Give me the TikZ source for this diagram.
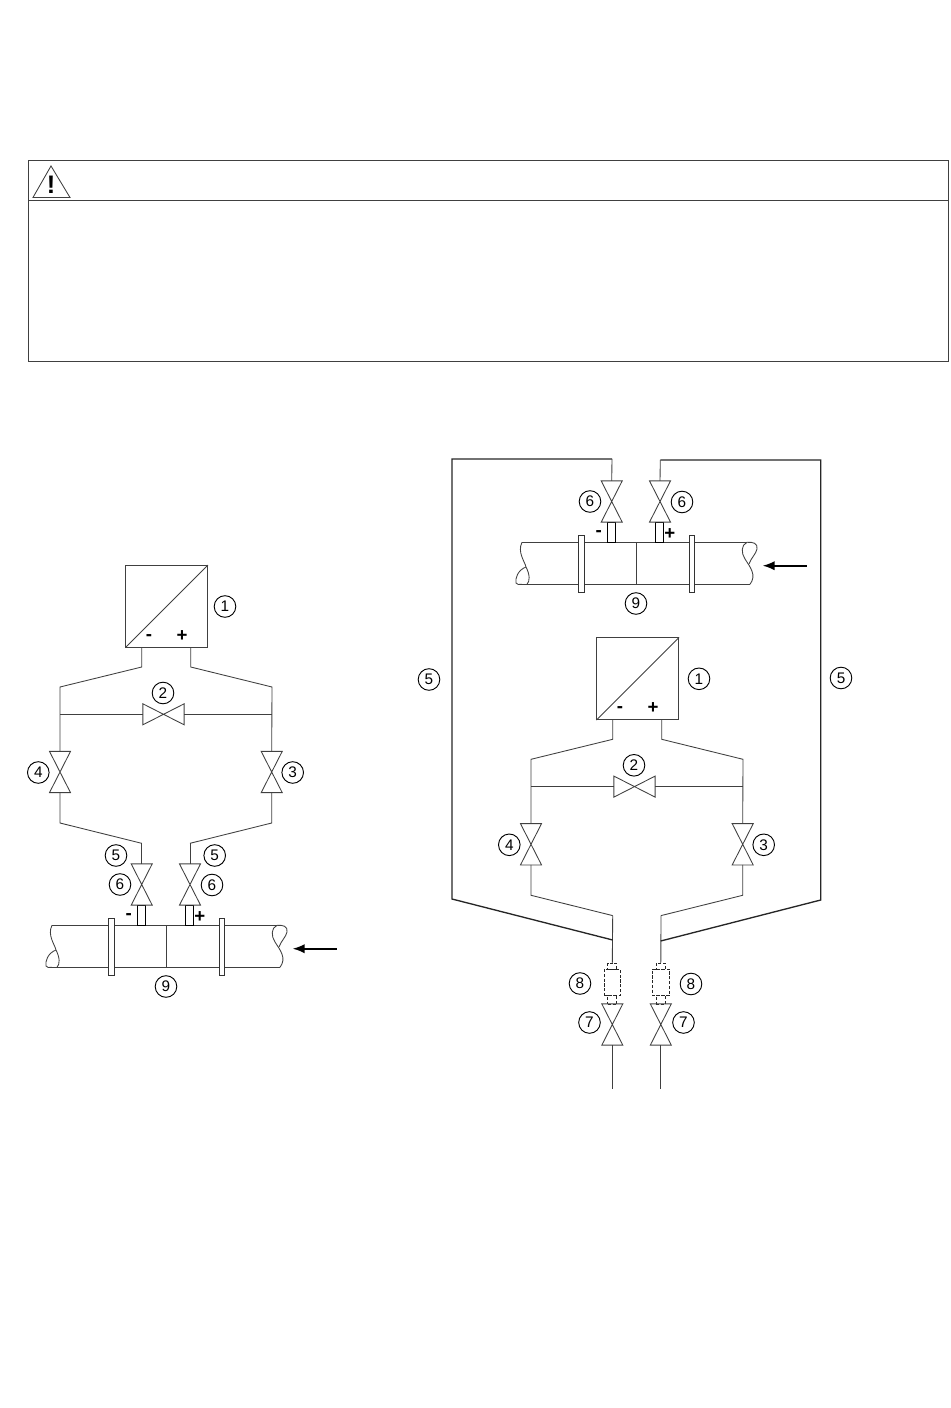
\documentclass[tikz,border=0pt]{standalone}
\usepackage{fontspec}
\setmainfont{Liberation Sans}
\usetikzlibrary{arrows.meta}

\begin{document}
\begin{tikzpicture}[
     x=0.75pt, y=-0.75pt,
     % define styles
     line/.style={ draw=black!75, line width=0.65pt },
     impulse/.style={ draw=black!85, line width=1pt },
     frame/.style={ draw=black!75, line width=0.75pt },
     valve/.style={ inner sep=0pt, minimum width=15.4pt, minimum height=30.6pt },
     valveh/.style={ inner sep=0pt, minimum width=30.6pt, minimum height=15.4pt },
     tag/.style={ draw=black, line width=0.7pt, circle, inner sep=0pt,
         minimum size=16.2pt, font=\fontsize{11.5}{11.5}\selectfont },
     sign/.style={ inner sep=0pt, font=\fontsize{14}{14}\selectfont\bfseries },
     flange/.style={ draw=black!80, fill=white, line width=0.75pt, inner sep=0pt,
         minimum width=4.4pt, minimum height=42.4pt },
     tube/.style={ draw=black, fill=white, line width=0.75pt, inner sep=0pt,
         minimum width=6pt, minimum height=15pt },
     trap/.style={ draw=black!85, dashed, dash pattern=on 2.4pt off 1.2pt,
         line width=0.75pt, inner sep=0pt },
     >={Latex[length=9pt,width=7pt]}
]
\useasboundingbox (0,0) rectangle (950,1408);

% warning box
\node[frame, inner sep=0pt, minimum width=690pt, minimum height=150.75pt] (warnbox) at (488,261) {};
\coordinate (divL) at (28,200.5);
\coordinate (divR) at (948,200.5);
\draw[frame] (divL) -- (divR);
\draw[line] (51,166) -- (70,197.5) -- (33,197.5) -- cycle;
\node[inner sep=0pt, font=\fontsize{19}{19}\selectfont\bfseries] (warnmark) at (51,185) {!};

% pipe with tapping valves, left and right
\foreach \pre/\sx/\sy in {a/0/0,b/470/-383} {
\begin{scope}[shift={(\sx,\sy)}, name prefix=\pre-]
    \draw[line] (52,925.3) -- (277,925.3);
    \draw[line] (50,967.3) -- (280,967.3);
    \draw[line] (52,925.3) .. controls (47,935) and (55,945) .. (56,950)
        .. controls (60,958) and (60,964) .. (57,967.3);
    \draw[line] (56,950) .. controls (48,953) and (45,961) .. (46,966)
        .. controls (47,968) and (49,967.5) .. (52,967.3);
    \draw[line] (277,925.3) .. controls (271,928) and (271,936) .. (275,942)
        .. controls (280,950) and (287,958) .. (280,967.3);
    \draw[line] (277,925.3) .. controls (283,925) and (288,926) .. (287,932)
        .. controls (286,937) and (281,941) .. (279,947);
    \node[flange] (fl1) at (111.5,947.2) {};
    \node[flange] (fl2) at (222,947.2) {};
    \coordinate (midT) at (166,925.3);
    \coordinate (midB) at (166,967.3);
    \draw[line] (midT) -- (midB);
    \node[tube] (tb1) at (141.7,915) {};
    \node[tube] (tb2) at (189.8,915) {};
    \foreach \vn/\vx in {v6l/141.7,v6r/190} {
        \node[valve] (\vn) at (\vx,884.5) {};
        \draw[line] (\vn.north west) -- (\vn.south east) -- (\vn.south west)
            -- (\vn.north east) -- cycle;
    }
    \node[sign] (minus) at (128.7,917) {-};
    \node[sign] (plus) at (199.8,917) {+};
    \node[tag] (n6l) at (120,884.5) {6};
    \node[tag] (n6r) at (212,885) {6};
    \node[tag] (n9) at (166,986.5) {9};
    \coordinate (flowTail) at (336.7,948.7);
    \coordinate (flowTip) at (292.7,948.7);
    \draw[->, line width=1.2pt] (flowTail) -- (flowTip);
\end{scope}
}

% transmitter with manifold, left and right
\foreach \pre/\sx/\sy/\ox in {m/0/0/225,n/471/72.3/228} {
\begin{scope}[shift={(\sx,\sy)}, name prefix=\pre-]
    \node[draw=black!75, line width=0.75pt, inner sep=0pt, minimum size=61.2pt] (box) at (166.7,606.4) {};
    \draw[line] (box.south west) -- (box.north east);
    \node[sign] (minus) at (149,637.5) {-};
    \node[sign] (plus) at (182,636) {+};
    \node[tag] (n1) at (\ox,606.5) {1};
    \coordinate (stemL) at (141.7,647.3);
    \coordinate (stemR) at (190.7,647.3);
    \coordinate (lowL) at (141.7,843.3);
    \coordinate (lowR) at (190,843.3);
    \coordinate (junL) at (60,714.3);
    \coordinate (junR) at (272,714.3);
    \node[valve] (v4) at (60,772) {};
    \node[valve] (v3) at (271.7,772) {};
    \foreach \vn in {v4,v3}
        \draw[line] (\vn.north west) -- (\vn.south east) -- (\vn.south west)
            -- (\vn.north east) -- cycle;
    \node[valveh] (v2) at (163.5,714.3) {};
    \draw[line] (v2.north west) -- (v2.south east) -- (v2.north east)
        -- (v2.south west) -- cycle;
    \draw[line] (stemL) -- (141.7,667) -- (60,687) -- (v4.north);
    \draw[line] (stemR) -- (190.7,667) -- (272,687) -- (v3.north);
    \draw[line] (v4.south) -- (60,823) -- (lowL);
    \draw[line] (v3.south) -- (271.7,823) -- (lowR);
    \draw[line] (junL) -- (v2.west);
    \draw[line] (v2.east) -- (junR);
    \node[tag] (n2) at (163,693) {2};
    \node[tag] (n4) at (38.3,772.5) {4};
    \node[tag] (n3) at (292.7,772.5) {3};
\end{scope}
}

% left side, manifold to tapping valves
\draw[line] (m-lowL) -- (a-v6l.north);
\draw[line] (m-lowR) -- (a-v6r.north);
\node[tag] (n5l) at (116,855.5) {5};
\node[tag] (n5r) at (214.7,855.5) {5};

% right side, condensate traps and shut-off valves
\foreach \sd/\tx/\mw in {l/612.3/12pt,r/660.8/13.2pt} {
    \node[trap, minimum width=6.8pt, minimum height=4.5pt] (tr1\sd) at (\tx,966.3) {};
    \node[trap, minimum width=\mw, minimum height=19.5pt] (tr2\sd) at (\tx,982.3) {};
    \node[trap, minimum width=6.8pt, minimum height=6.8pt] (tr3\sd) at (\tx,999.8) {};
    \node[valve] (v7\sd) at (\tx,1024.5) {};
    \draw[line] (v7\sd.north west) -- (v7\sd.south east) -- (v7\sd.south west)
        -- (v7\sd.north east) -- cycle;
    \coordinate (end\sd) at (\tx,1089.3);
    \draw[line] (v7\sd.south) -- (end\sd);
}
\draw[line] (n-lowL) -- (tr1l.north);
\draw[line] (n-lowR) -- (tr1r.north);

% impulse lines round the outside
\coordinate (teeL) at (612.7,940);
\coordinate (teeR) at (660.7,941);
\coordinate (topL) at (612,459);
\coordinate (topR) at (660.3,460);
\draw[impulse] (teeL) -- (452,899) -- (452,459) -- (topL);
\draw[impulse] (teeR) -- (820.7,900) -- (820.7,460) -- (topR);
\draw[line] (topL) -- (b-v6l.north);
\draw[line] (topR) -- (b-v6r.north);

\node[tag] (n5o) at (429,679.5) {5};
\node[tag] (n5p) at (841,678) {5};
\node[tag] (n8l) at (580,983.5) {8};
\node[tag] (n8r) at (691,984) {8};
\node[tag] (n7l) at (589.5,1022.5) {7};
\node[tag] (n7r) at (683.5,1022.5) {7};
\end{tikzpicture}
\end{document}
